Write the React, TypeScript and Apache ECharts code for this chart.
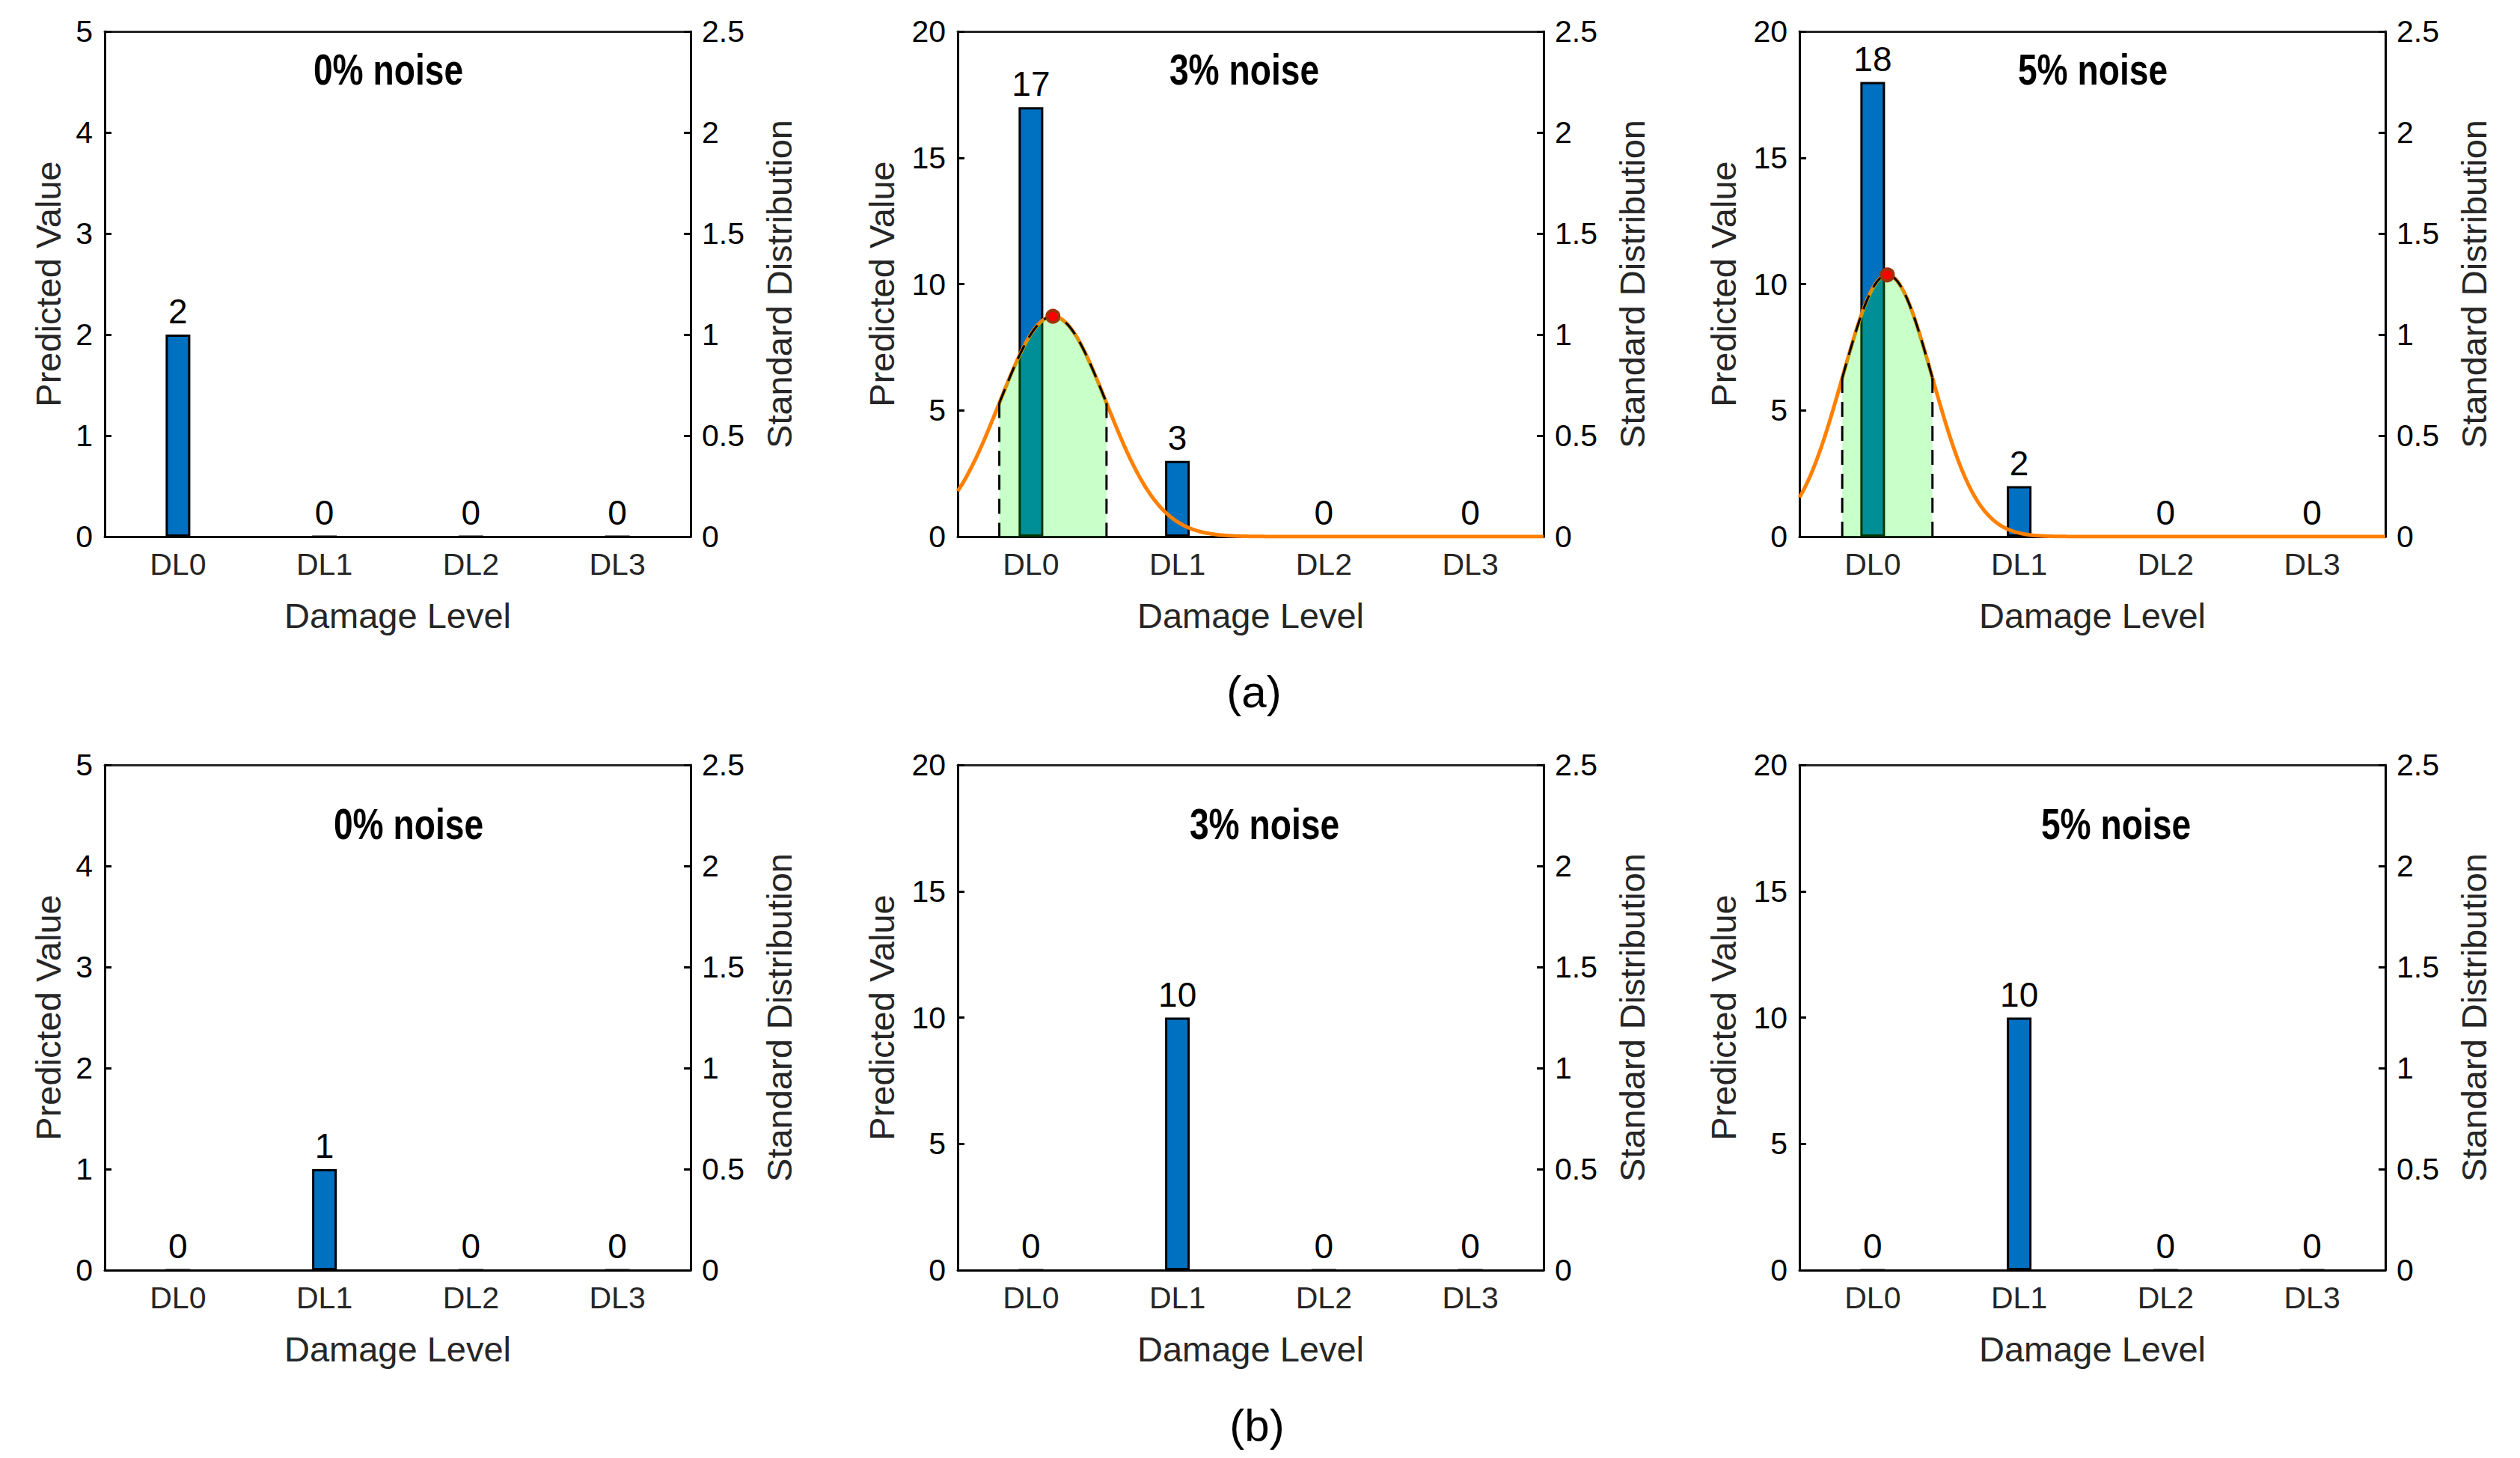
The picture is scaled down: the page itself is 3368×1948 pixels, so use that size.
import React, { useEffect, useRef } from "react";
import * as echarts from "echarts";

// ---------- data ----------
const categories = ["DL0", "DL1", "DL2", "DL3"];
const valuesA0 = [2, 0, 0, 0];
const valuesA3 = [17, 3, 0, 0];
const valuesA5 = [18, 2, 0, 0];
const valuesB0 = [0, 1, 0, 0];
const valuesB3 = [0, 10, 0, 0];
const valuesB5 = [0, 10, 0, 0];
const panelValues = [valuesA0, valuesA3, valuesA5, valuesB0, valuesB3, valuesB5];
const titles = ["0% noise", "3% noise", "5% noise"];
const leftMax = [5, 20, 20];
const leftInterval = [1, 5, 5];
const rightMax = 2.5;
const rightInterval = 0.5;
// normal distribution parameters (in category-index units) for the row (a) panels
const curveMu = [null, 0.15, 0.1];
const curveSigma = [null, 0.366, 0.308];
const rowLabels = ["(a)", "(b)"];

// ---------- layout ----------
const FONT = '"Liberation Sans", Arial, Helvetica, sans-serif';
const colLeft = [140, 1280, 2405];
const plotW = 783;
const rowTop = [42, 1022];
const plotH = 675;
const titleX = [
  [519, 1663, 2797],
  [546, 1690, 2828],
];
const titleY = [93, 1101];
const rowLabelPos = [
  [1676, 924],
  [1680, 1904],
];

function pdf(x: number, mu: number, s: number) {
  return Math.exp(-((x - mu) * (x - mu)) / (2 * s * s)) / (s * Math.sqrt(2 * Math.PI));
}

function buildOption() {
  const grid: any[] = [];
  const xAxis: any[] = [];
  const yAxis: any[] = [];
  const series: any[] = [];
  const graphic: any[] = [];

  for (let k = 0; k < 6; k++) {
    const r = Math.floor(k / 3);
    const c = k % 3;
    grid.push({ left: colLeft[c], top: rowTop[r], width: plotW, height: plotH, containLabel: false });

    xAxis.push({
      type: "category",
      gridIndex: k,
      data: categories,
      position: "bottom",
      axisLine: { onZero: false, lineStyle: { color: "#000", width: 3 } },
      axisTick: { inside: true, alignWithLabel: true, length: 9, lineStyle: { color: "#000", width: 3 } },
      axisLabel: { fontSize: 41, color: "#262626", margin: 16, fontFamily: FONT },
      name: "Damage Level",
      nameLocation: "middle",
      nameGap: 82,
      nameTextStyle: { fontSize: 47, color: "#262626", fontFamily: FONT },
    });
    xAxis.push({
      type: "category",
      gridIndex: k,
      data: categories,
      position: "top",
      axisLine: { onZero: false, lineStyle: { color: "#262626", width: 3 } },
      axisTick: { inside: true, alignWithLabel: true, length: 9, lineStyle: { color: "#262626", width: 3 } },
      axisLabel: { show: false },
    });
    xAxis.push({ type: "value", gridIndex: k, min: -0.5, max: 3.5, show: false });

    yAxis.push({
      type: "value",
      gridIndex: k,
      position: "left",
      min: 0,
      max: leftMax[c],
      interval: leftInterval[c],
      axisLine: { show: true, onZero: false, lineStyle: { color: "#000", width: 3 } },
      axisTick: { show: true, inside: true, length: 9, lineStyle: { color: "#000", width: 3 } },
      splitLine: { show: false },
      axisLabel: { fontSize: 41, color: "#000", margin: 16, fontFamily: FONT },
      name: "Predicted Value",
      nameLocation: "middle",
      nameRotate: 90,
      nameGap: c === 0 ? 52 : 78,
      nameTextStyle: { fontSize: 47, color: "#262626", fontFamily: FONT },
    });
    yAxis.push({
      type: "value",
      gridIndex: k,
      position: "right",
      min: 0,
      max: rightMax,
      interval: rightInterval,
      axisLine: { show: true, onZero: false, lineStyle: { color: "#000", width: 3 } },
      axisTick: { show: true, inside: true, length: 9, lineStyle: { color: "#000", width: 3 } },
      splitLine: { show: false },
      axisLabel: { fontSize: 41, color: "#000", margin: 15, fontFamily: FONT },
      name: "Standard Distribution",
      nameLocation: "middle",
      nameRotate: 90,
      nameGap: 95,
      nameTextStyle: { fontSize: 47, color: "#262626", fontFamily: FONT },
    });

    series.push({
      type: "bar",
      xAxisIndex: 3 * k,
      yAxisIndex: 2 * k,
      data: panelValues[k],
      barWidth: 33,
      itemStyle: { color: "#0070C0", borderColor: "#000", borderWidth: 3 },
      label: { show: true, position: "top", distance: 8, fontSize: 46, color: "#000", fontFamily: FONT },
      z: 2,
    });

    const mu = r === 0 ? curveMu[c] : null;
    const s = r === 0 ? curveSigma[c] : null;
    if (mu !== null && s !== null) {
      const curve: number[][] = [];
      for (let i = 0; i <= 400; i++) {
        const x = -0.5 + i * 0.01;
        curve.push([x, pdf(x, mu, s)]);
      }
      const band: number[][] = [];
      for (let i = 0; i <= 120; i++) {
        const x = mu - s + (2 * s * i) / 120;
        band.push([x, pdf(x, mu, s)]);
      }
      series.push({
        type: "line",
        xAxisIndex: 3 * k + 2,
        yAxisIndex: 2 * k + 1,
        data: curve,
        showSymbol: false,
        symbol: "none",
        lineStyle: { color: "#FF8000", width: 5 },
        z: 3,
        silent: true,
      });
      series.push({
        type: "line",
        xAxisIndex: 3 * k + 2,
        yAxisIndex: 2 * k + 1,
        data: band,
        showSymbol: false,
        symbol: "none",
        lineStyle: { color: "#000", width: 3, type: [20, 12] },
        areaStyle: { color: "rgba(0,255,0,0.3)", origin: "start" },
        z: 4,
        silent: true,
      });
      [mu - s, mu + s].forEach((xv) => {
        series.push({
          type: "line",
          xAxisIndex: 3 * k + 2,
          yAxisIndex: 2 * k + 1,
          data: [
            [xv, pdf(xv, mu, s)],
            [xv, 0],
          ],
          showSymbol: false,
          symbol: "none",
          lineStyle: { color: "#000", width: 3, type: [20, 12] },
          z: 5,
          silent: true,
        });
      });
      series.push({
        type: "scatter",
        xAxisIndex: 3 * k + 2,
        yAxisIndex: 2 * k + 1,
        data: [[mu, pdf(mu, mu, s)]],
        symbol: "circle",
        symbolSize: 16,
        itemStyle: { color: "#FF0000", borderColor: "#9E3209", borderWidth: 4, opacity: 1 },
        z: 6,
        silent: true,
      });
    }

    graphic.push({
      type: "text",
      x: titleX[r][c],
      y: titleY[r],
      scaleX: 0.81,
      style: {
        text: titles[c],
        fontSize: 57,
        fontWeight: "bold",
        fontFamily: FONT,
        fill: "#000",
        align: "center",
        verticalAlign: "middle",
      },
      z: 10,
    });
  }

  rowLabels.forEach((t, i) => {
    graphic.push({
      type: "text",
      x: rowLabelPos[i][0],
      y: rowLabelPos[i][1],
      style: {
        text: t,
        fontSize: 60,
        fontFamily: FONT,
        fill: "#000",
        align: "center",
        verticalAlign: "middle",
      },
    });
  });

  return {
    animation: false,
    backgroundColor: "#fff",
    textStyle: { fontFamily: FONT },
    grid,
    xAxis,
    yAxis,
    series,
    graphic,
  };
}

export default function App() {
  const ref = useRef<HTMLDivElement>(null);
  useEffect(() => {
    document.body.style.margin = "0";
    document.body.style.overflow = "hidden";
    if (!ref.current) return;
    const chart = echarts.init(ref.current, undefined, { renderer: "svg" });
    chart.setOption(buildOption());
    return () => chart.dispose();
  }, []);
  return <div ref={ref} style={{ width: 3368, height: 1948 }} />;
}
